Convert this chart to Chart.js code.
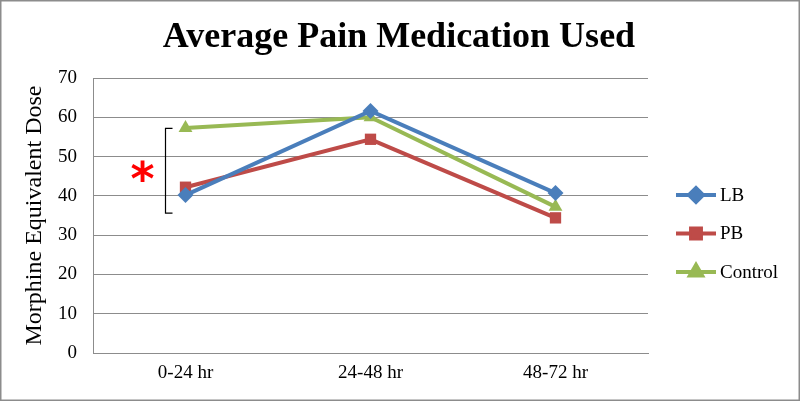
<!DOCTYPE html>
<html lang="en">
<head>
  <meta charset="UTF-8">
  <title>Average Pain Medication Used</title>
  <script src="https://cdn.jsdelivr.net/npm/chart.js"></script>
  <style>
    body { margin: 0; background: #fff; }
    #wrap { width: 800px; height: 401px; }
  </style>
</head>
<body>
  <div id="wrap"><canvas id="chart" width="800" height="401"></canvas></div>

  <script>
    const periods = ["0-24 hr", "24-48 hr", "48-72 hr"];
    const lb = [40.2, 61.6, 40.7];
    const pb = [42.2, 54.4, 34.4];
    const control = [57.3, 60.0, 37.2];
    // bracket around the 0-24 hr group, in data units
    const bracketRange = [35.6, 57.2];

    const serif = "'Liberation Serif', serif";

    // title, outer frame, bracket + asterisk, custom legend (line with marker)
    const extras = {
      id: "extras",
      beforeDraw(chart) {
        const c = chart.ctx;
        c.save();
        c.fillStyle = "#fff";
        c.fillRect(0, 0, chart.width, chart.height);
        c.restore();
      },
      afterDraw(chart) {
        const c = chart.ctx;
        const x = chart.scales.x, y = chart.scales.y;
        c.save();
        c.strokeStyle = "#8c8c8c";
        c.lineWidth = 1.5;
        c.strokeRect(0.75, 0.75, chart.width - 1.5, chart.height - 1.5);

        // title
        c.fillStyle = "#000";
        c.font = "bold 36px " + serif;
        c.textAlign = "center";
        c.textBaseline = "alphabetic";
        c.fillText("Average Pain Medication Used", 399, 47);

        // bracket
        const bx = x.getPixelForValue(0) - 20;
        const top = y.getPixelForValue(bracketRange[1]);
        const bot = y.getPixelForValue(bracketRange[0]);
        c.strokeStyle = "#000";
        c.lineWidth = 1.2;
        c.beginPath();
        c.moveTo(bx + 7, top); c.lineTo(bx, top); c.lineTo(bx, bot); c.lineTo(bx + 7, bot);
        c.stroke();

        // asterisk, centred on its ink box
        c.fillStyle = "#ff0000";
        c.font = "bold 46px 'DejaVu Sans'";
        c.textAlign = "center";
        c.textBaseline = "alphabetic";
        const m = c.measureText("*");
        const ay = (top + bot) / 2 + (m.actualBoundingBoxAscent - m.actualBoundingBoxDescent) / 2;
        c.fillText("*", bx - 23, ay);

        // legend
        c.font = "19px " + serif;
        c.textAlign = "left";
        c.textBaseline = "middle";
        chart.data.datasets.forEach((ds, i) => {
          const ly = 195 + i * 38.5;
          c.strokeStyle = ds.borderColor;
          c.lineWidth = 4;
          c.beginPath(); c.moveTo(676, ly); c.lineTo(716, ly); c.stroke();
          Chart.helpers.drawPoint(c, {
            pointStyle: ds.pointStyle, radius: ds.pointRadius - 1, rotation: 0, borderWidth: 1
          }, 696, ly);
          c.fillStyle = ds.borderColor;
          c.fill();
          c.fillStyle = "#000";
          c.fillText(ds.label, 720, ly + 1);
        });
        c.restore();
      }
    };

    const ctx = document.getElementById("chart").getContext("2d");
    new Chart(ctx, {
      type: "line",
      data: {
        labels: periods,
        datasets: [
          { label: "LB", data: lb, borderColor: "#4a7ebb", backgroundColor: "#4a7ebb",
            pointStyle: "rectRot", pointRadius: 8 },
          { label: "PB", data: pb, borderColor: "#be4b48", backgroundColor: "#be4b48",
            pointStyle: "rect", pointRadius: 8 },
          { label: "Control", data: control, borderColor: "#98b954", backgroundColor: "#98b954",
            pointStyle: "triangle", pointRadius: 8 }
        ]
      },
      plugins: [extras],
      options: {
        responsive: false,
        animation: false,
        datasets: { line: { borderWidth: 4, tension: 0, pointBorderWidth: 0 } },
        layout: { padding: { top: 78, right: 152, bottom: 0, left: 0 } },
        plugins: {
          legend: { display: false },
          tooltip: { enabled: false },
          title: { display: false }
        },
        scales: {
          x: {
            offset: true,
            grid: { display: false, drawTicks: false },
            border: { color: "#8c8c8c", width: 1 },
            ticks: { color: "#000", font: { family: serif, size: 19 }, padding: 9 },
            afterFit(s) { s.height = 48; }
          },
          y: {
            min: 0, max: 70,
            ticks: { stepSize: 10, color: "#000", font: { family: serif, size: 19 }, padding: 16 },
            grid: { color: "#8c8c8c", drawTicks: false },
            border: { color: "#8c8c8c", width: 1 },
            title: {
              display: true,
              text: "Morphine Equivalent Dose",
              color: "#000",
              font: { family: serif, size: 24 },
              padding: { top: 20, bottom: 0 }
            },
            afterFit(s) { s.width = 93; }
          }
        }
      }
    });
  </script>
</body>
</html>
